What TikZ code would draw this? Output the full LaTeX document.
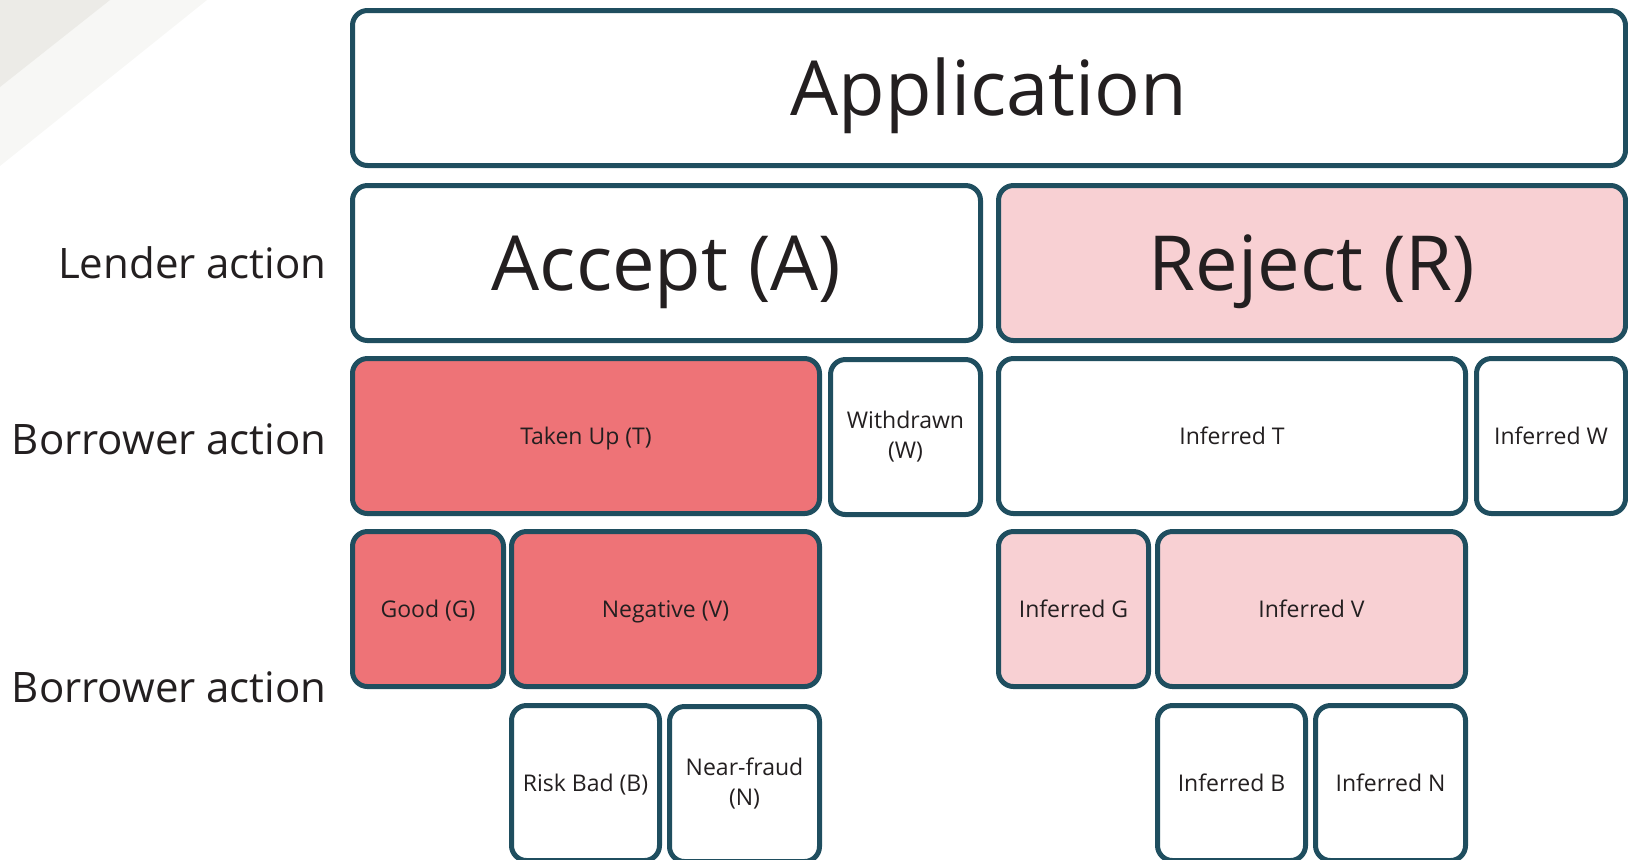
\documentclass[tikz,border=0pt]{standalone}
\usepackage{fontspec}
\setmainfont{Open Sans}

\definecolor{edgeteal}{HTML}{1F4E5F}
\definecolor{takenred}{HTML}{EE7377}
\definecolor{rejpink}{HTML}{F8D0D3}
\definecolor{inkdark}{HTML}{231F20}
\definecolor{shadelight}{HTML}{F7F7F5}
\definecolor{shadedark}{HTML}{ECEBE7}

\tikzset{
  twoline/.style={draw=edgeteal, line width=2.5pt, rounded corners=7.5pt, fill=white,
    minimum height=77.5pt, inner sep=0pt, align=center, text=inkdark,
    font=\fontsize{11.5}{15}\selectfont},
  cell/.style={twoline, text height=11pt, text depth=2.8pt},
  bigcell/.style={twoline, text height=35pt, text depth=7.9pt,
    font=\fontsize{38}{40}\selectfont},
  rowlabel/.style={anchor=east, inner sep=0pt, text=inkdark,
    font=\fontsize{21}{24}\selectfont},
}

\begin{document}
\begin{tikzpicture}[x=0.5pt,y=-0.5pt]

  % page frame, pixel grid of the slide
  \useasboundingbox (0,0) rectangle (1628,859);

  % faint corner shading
  \fill [shadelight] (0,0) -- (207,0) -- (0,166) -- cycle;
  \fill [shadedark] (0,0) -- (110,0) -- (0,87) -- cycle;

  % row labels
  \node [rowlabel] (lender)   at (327,263) {Lender action};
  \node [rowlabel] (borrowA)  at (327,439) {Borrower action};
  \node [rowlabel] (borrowB)  at (327,687) {Borrower action};

  % top level
  \node [bigcell, minimum width=636.5pt] (app) at (989,88) {Application};

  % lender decision
  \node [bigcell, minimum width=314pt] (accept) at (666.5,263) {Accept (A)};
  \node [bigcell, minimum width=313.5pt, fill=rejpink] (reject) at (1312,263) {Reject (R)};

  % borrower action, first level
  \node [cell, minimum width=233.5pt, fill=takenred] (taken) at (586,436) {Taken Up (T)};
  \node [twoline, minimum width=75pt] (withdrawn) at (905.5,437) {Withdrawn\\(W)};
  \node [cell, minimum width=233.5pt] (infT) at (1232,436) {Inferred T};
  \node [cell, minimum width=74.5pt] (infW) at (1551,436) {Inferred W};

  % borrower action, second level
  \node [cell, minimum width=75.5pt, fill=takenred] (good) at (428,609) {Good (G)};
  \node [cell, minimum width=154pt, fill=takenred] (negative) at (665.5,609) {Negative (V)};
  \node [cell, minimum width=75pt, fill=rejpink] (infG) at (1073.5,609) {Inferred G};
  \node [cell, minimum width=154pt, fill=rejpink] (infV) at (1311.5,609) {Inferred V};

  % split of the negatives
  \node [cell, minimum width=74pt] (riskbad) at (585.5,783) {Risk Bad (B)};
  \node [twoline, minimum width=75pt] (nearfraud) at (744.5,784) {Near-fraud\\(N)};
  \node [cell, minimum width=74pt] (infB) at (1231.5,783) {Inferred B};
  \node [cell, minimum width=75pt] (infN) at (1390.5,783) {Inferred N};

\end{tikzpicture}
\end{document}
